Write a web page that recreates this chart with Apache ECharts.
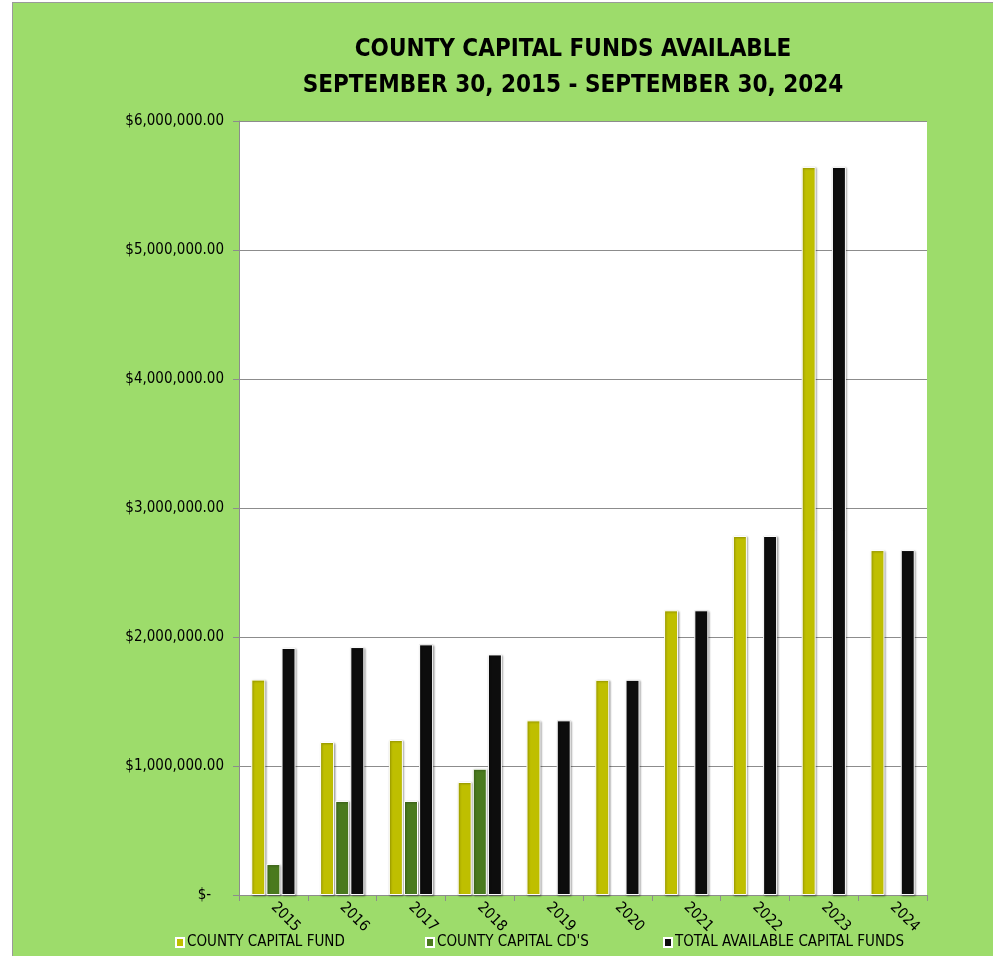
<!DOCTYPE html>
<html>
<head>
<meta charset="utf-8">
<script src="https://cdn.jsdelivr.net/npm/echarts@6/dist/echarts.min.js"></script>
<style>
  html, body { margin: 0; padding: 0; background: #ffffff; width: 993px; height: 956px; overflow: hidden; }
  #wrap { position: absolute; left: 12px; top: 2px; width: 980px; height: 953px;
          border-left: 1px solid #9a9a9a; border-top: 1px solid #9a9a9a; background: #9DDC6B; }
  #chart { width: 980px; height: 953px; }
</style>
</head>
<body>
<div id="wrap"><div id="chart"></div></div>
<script>
const years = ['2015','2016','2017','2018','2019','2020','2021','2022','2023','2024'];
const countyCapitalFund = [1670000, 1186000, 1202000, 876000, 1354000, 1668000, 2207000, 2783000, 5644000, 2674000];
const countyCapitalCDs = [240000, 729000, 729000, 979000, null, null, null, null, null, null];
const totalAvailable = [1915000, 1922000, 1943000, 1865000, 1354000, 1668000, 2207000, 2783000, 5644000, 2674000];
const seriesNames = ['COUNTY CAPITAL FUND', "COUNTY CAPITAL CD'S", 'TOTAL AVAILABLE CAPITAL FUNDS'];
const seriesColors = ['#BFBF00', '#4A7A1E', '#0D0D0D'];
const yTicks = [0, 1000000, 2000000, 3000000, 4000000, 5000000, 6000000];

const FONT = '"Liberation Sans Narrow", "DejaVu Sans Condensed", "Open Sans", sans-serif';

function fmtMoney(v) {
  if (v === 0) return '$-   ';
  return '$' + v.toLocaleString('en-US', { minimumFractionDigits: 2, maximumFractionDigits: 2 });
}

const chart = echarts.init(document.getElementById('chart'), null, { renderer: 'canvas' });
const dataSets = [countyCapitalFund, countyCapitalCDs, totalAvailable];
const legendLefts = [157, 407, 645];

chart.setOption({
  animation: false,
  backgroundColor: 'transparent',
  title: {
    text: 'COUNTY CAPITAL FUNDS AVAILABLE\nSEPTEMBER 30, 2015 - SEPTEMBER 30, 2024',
    left: 555,
    top: 24,
    textAlign: 'center',
    textStyle: { fontFamily: FONT, fontWeight: 'bold', fontSize: 24, lineHeight: 36, color: '#000' }
  },
  legend: seriesNames.map((n, i) => ({
    data: [n],
    left: legendLefts[i],
    top: 927,
    itemWidth: 8,
    itemHeight: 9,
    itemGap: 4,
    icon: 'rect',
    textStyle: { fontFamily: FONT, fontSize: 15, color: '#000', padding: [0, 0, 0, -2] },
    selectedMode: false
  })),
  grid: { left: 226, top: 118, right: 66, bottom: 61, containLabel: false },
  xAxis: {
    type: 'category',
    data: years,
    axisLine: { show: true, lineStyle: { color: '#8c8c8c', width: 1 } },
    axisTick: { show: true, alignWithLabel: false, length: 6, lineStyle: { color: '#8c8c8c' } },
    axisLabel: { rotate: -45, margin: 10, fontFamily: FONT, fontSize: 15, color: '#000' },
    splitLine: { show: false }
  },
  yAxis: {
    type: 'value',
    min: 0,
    max: 6000000,
    interval: 1000000,
    axisLine: { show: true, lineStyle: { color: '#8c8c8c', width: 1 } },
    axisTick: { show: true, length: 6, lineStyle: { color: '#8c8c8c' } },
    axisLabel: { margin: 15, fontFamily: FONT, fontSize: 15, color: '#000', formatter: fmtMoney },
    splitLine: { show: true, lineStyle: { color: '#8c8c8c', width: 1 } },
    splitArea: { show: true, areaStyle: { color: ['#ffffff', '#ffffff'] } }
  },
  series: seriesNames.map((n, i) => ({
    name: n,
    type: 'bar',
    data: dataSets[i],
    barWidth: 14,
    barGap: '8%',
    itemStyle: {
      color: seriesColors[i],
      borderColor: '#ffffff',
      borderWidth: 1,
      shadowColor: 'rgba(0,0,0,0.35)',
      shadowBlur: 2,
      shadowOffsetX: 1,
      shadowOffsetY: 1
    }
  }))
});
</script>
</body>
</html>
